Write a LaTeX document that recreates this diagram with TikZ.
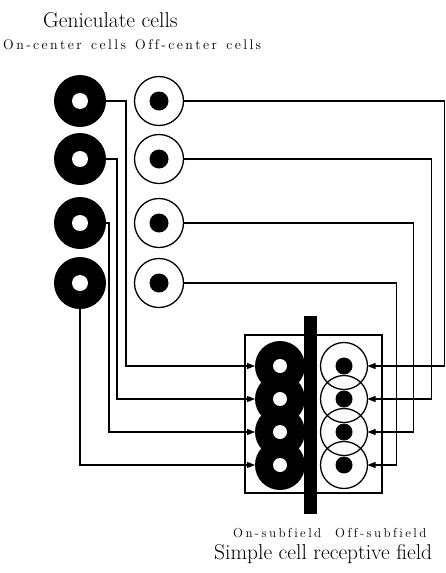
\documentclass[tikz,border=0pt]{standalone}
\usepackage{fontspec}
\usetikzlibrary{arrows.meta}
\makeatletter
\newdimen\spc@k
\def\spacedtext#1#2{\spc@k=#1\relax\spc@loop#2\relax}
\def\spc@loop#1{\ifx#1\relax\else#1\kern\spc@k\expandafter\spc@loop\fi}
\makeatother
\begin{document}
\begin{tikzpicture}[x=1pt,y=-1pt,
  oncell/.style={circle, fill=black, minimum size=52pt, inner sep=0pt, outer sep=0pt},
  hole/.style={circle, fill=white, minimum size=16pt, inner sep=0pt, outer sep=0pt},
  offcell/.style={circle, draw=black, line width=1.3pt, fill=white, minimum size=49pt, inner sep=0pt, outer sep=0pt},
  dot/.style={circle, fill=black, minimum size=19pt, inner sep=0pt, outer sep=0pt},
  subon/.style={circle, fill=black, minimum size=50pt, inner sep=0pt, outer sep=0pt},
  subhole/.style={circle, fill=white, minimum size=14pt, inner sep=0pt, outer sep=0pt},
  suboff/.style={circle, draw=black, line width=1.3pt, minimum size=47pt, inner sep=0pt, outer sep=0pt},
  subdot/.style={circle, fill=black, minimum size=17pt, inner sep=0pt, outer sep=0pt},
  conn/.style={line width=1.2pt, -{Triangle[length=8pt,width=6pt]}},
  title/.style={anchor=base west, inner sep=0pt, font=\fontsize{21.5}{24}\selectfont},
  small/.style={anchor=base west, inner sep=0pt, font=\fontsize{14}{16}\selectfont},
  smaller/.style={anchor=base west, inner sep=0pt, font=\fontsize{13}{15}\selectfont}
]
\useasboundingbox (0,0) rectangle (446,573);

% labels
\node[title] (tgen) at (43,27) {Geniculate cells};
\node[small] (ton) at (3,49) {\spacedtext{2.4pt}{On-center~cells}};
\node[small] (toff) at (135,49) {\spacedtext{2.4pt}{Off-center~cells}};
\node[smaller] (tsubon) at (233,537) {\spacedtext{2.4pt}{On-subfield}};
\node[smaller] (tsuboff) at (335,537) {\spacedtext{2.4pt}{Off-subfield}};
\node[title] (tsimple) at (214,559) {Simple cell receptive field};

% geniculate cells
\foreach \i/\y in {1/101,2/159,3/223,4/283}{
  \node[oncell] (on\i) at (80,\y) {};
  \node[hole] (onh\i) at (on\i) {};
  \node[offcell] (off\i) at (159,\y) {};
  \node[dot] (offd\i) at (off\i) {};
}

% receptive field box
\node[draw, line width=1.2pt, minimum width=137pt, minimum height=158pt, inner sep=0pt] (box) at (313.5,414) {};

% on-subfield
\foreach \i/\y in {1/366,2/399,3/432,4/465}{
  \node[subon] (son\i) at (280,\y) {};
}
\foreach \i in {1,...,4}{
  \node[subhole] (sonh\i) at (son\i) {};
}
% off-subfield
\foreach \i/\y in {1/366,2/399,3/432,4/465}{
  \node[suboff] (sof\i) at (344,\y) {};
  \node[subdot] (sofd\i) at (sof\i) {};
}

% simple cell bar
\node[fill=black, minimum width=13pt, minimum height=198pt, inner sep=0pt] (bar) at (310.5,415) {};

% on-center connections
\draw[conn] (on1.east) -- ++(20,0) |- (son1.west);
\draw[conn] (on2.east) -- ++(11,0) |- (son2.west);
\draw[conn] (on3.east) -- ++(3,0) |- (son3.west);
\draw[conn] (on4.south) |- (son4.west);

% off-center connections
\draw[conn] (off1.east) -- ++(261,0) |- (sof1.east);
\draw[conn] (off2.east) -- ++(248,0) |- (sof2.east);
\draw[conn] (off3.east) -- ++(230,0) |- (sof3.east);
\draw[conn] (off4.east) -- ++(213,0) |- (sof4.east);
\end{tikzpicture}
\end{document}
